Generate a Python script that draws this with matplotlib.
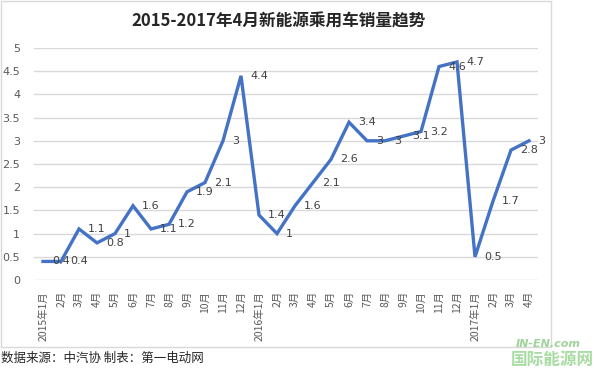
import matplotlib
matplotlib.use("Agg")
import matplotlib.pyplot as plt
from matplotlib.patches import Rectangle

plt.rcParams['font.family'] = ['Noto Sans CJK SC', 'DejaVu Sans']

title = "2015-2017年4月新能源乘用车销量趋势"
months = ["2015年1月", "2月", "3月", "4月", "5月", "6月", "7月", "8月", "9月", "10月", "11月", "12月",
          "2016年1月", "2月", "3月", "4月", "5月", "6月", "7月", "8月", "9月", "10月", "11月", "12月",
          "2017年1月", "2月", "3月", "4月"]
sales = [0.4, 0.4, 1.1, 0.8, 1.0, 1.6, 1.1, 1.2, 1.9, 2.1, 3.0, 4.4,
         1.4, 1.0, 1.6, 2.1, 2.6, 3.4, 3.0, 3.0, 3.1, 3.2, 4.6, 4.7,
         0.5, 1.7, 2.8, 3.0]
yticks = [0, 0.5, 1, 1.5, 2, 2.5, 3, 3.5, 4, 4.5, 5]
ytick_labels = ["0", "0.5", "1", "1.5", "2", "2.5", "3", "3.5", "4", "4.5", "5"]
source = "数据来源：中汽协 制表：第一电动网"

W, H = 600, 372
fig = plt.figure(figsize=(W / 100, H / 100), dpi=100)
fig.patch.set_facecolor("white")

# chart frame
fig.patches.append(Rectangle((1 / W, 1 - 347 / H), 550 / W, 346 / H, transform=fig.transFigure,
                             fill=False, edgecolor="#d9d9d9", lw=1))

ax = fig.add_axes([34 / W, 1 - 280 / H, 504 / W, 232 / H])
x = list(range(len(months)))
ax.plot(x, sales, color="#4472C4", lw=2.4, solid_joinstyle="miter", clip_on=False, zorder=3)

def fmt(v):
    return str(int(v)) if float(v).is_integer() else f"{v:g}"

for xi, v in zip(x, sales):
    ax.annotate(fmt(v), (xi, v), xytext=(6.5, 0), textcoords="offset points",
                ha="left", va="center", fontsize=8, color="#404040",
                family=["DejaVu Sans"], zorder=4)

ax.set_xlim(-0.5, len(months) - 0.5)
ax.set_ylim(0, 5)
ax.set_yticks(yticks)
ax.set_yticklabels(ytick_labels, fontsize=8, color="#595959", family=["DejaVu Sans"])
ax.set_xticks(x)
ax.set_xticklabels(months, rotation=90, fontsize=7.5, color="#595959", va="top", ha="center")
ax.tick_params(axis="both", length=0)
ax.tick_params(axis="y", pad=10)
ax.tick_params(axis="x", pad=8)
for s in ax.spines.values():
    s.set_visible(False)
ax.grid(axis="y", color="#d9d9d9", lw=1)
ax.set_axisbelow(True)

fig.text(278 / W, 1 - 22 / H, title, ha="center", va="center", fontsize=12,
         fontweight="bold", color="#262626")
fig.text(1 / W, 1 - 358 / H, source, ha="left", va="center", fontsize=9, color="#262626")

# watermark
fig.text(548 / W, 1 - 344 / H, "IN-EN.com", ha="center", va="center", fontsize=8,
         color="#9ed39a", fontweight="bold", style="italic", family=["DejaVu Sans"])
fig.text(552 / W, 1 - 360 / H, "国际能源网", ha="center", va="center", fontsize=12,
         color="#a9dca3", fontweight="bold")

fig.savefig("out.png", dpi=100)
